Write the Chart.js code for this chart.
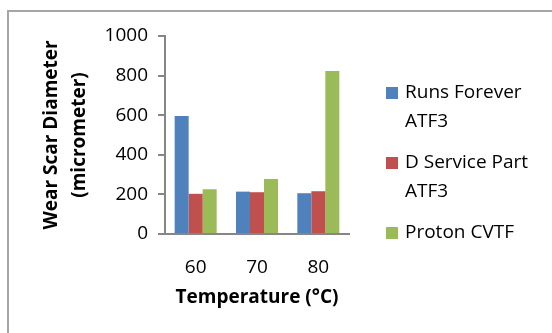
<!DOCTYPE html>
<html>

<head>
    <title>Wear Scar Diameter</title>
    <script src="https://cdn.jsdelivr.net/npm/chart.js@4"></script>
    <style>
        body { margin: 0; background: #fff; }
        #frame { position: absolute; left: 7px; top: 10px; width: 600px; height: 400px; border: 2px solid #a6a6a6; }
        #ctx { position: absolute; left: 0; top: 0; }
    </style>
</head>

<body>
    <div id="frame"></div>
    <canvas id="ctx" width="552" height="333"></canvas>

    <script>
        const categories = ['60', '70', '80'];
        const runsForever = [596, 214, 206];
        const dServicePart = [203, 211, 216];
        const protonCvtf = [226, 278, 823];
        const seriesNames = [['Runs Forever', 'ATF3'], ['D Service Part', 'ATF3'], ['Proton CVTF']];
        const yTicks = [0, 200, 400, 600, 800, 1000];

        const fontFamily = '"Open Sans", sans-serif';

        // legend drawn to the right of the plot, one entry per dataset
        const sideLegend = {
            id: 'sideLegend',
            afterDraw(chart) {
                const c = chart.ctx;
                const area = chart.chartArea;
                const x = area.right + 37;
                let y = area.top + 57;
                c.save();
                c.font = '19px ' + fontFamily;
                c.textBaseline = 'middle';
                chart.data.datasets.forEach((ds, i) => {
                    const lines = seriesNames[i];
                    c.fillStyle = ds.backgroundColor;
                    c.fillRect(x, y - 6, 12, 12);
                    c.fillStyle = '#000';
                    lines.forEach((t, j) => {
                        c.fillText(t, x + 19, y + j * 29);
                    });
                    y += lines.length * 29 + 12;
                });
                c.restore();
            }
        };

        const ctx = document.getElementById('ctx');

        var chart = new Chart(ctx, {
            type: 'bar',
            data: {
                labels: categories,
                datasets: [{
                    label: seriesNames[0].join(' '),
                    data: runsForever,
                    backgroundColor: '#4f81bd'
                },
                {
                    label: seriesNames[1].join(' '),
                    data: dServicePart,
                    backgroundColor: '#c0504d'
                },
                {
                    label: seriesNames[2].join(' '),
                    data: protonCvtf,
                    backgroundColor: '#9bbb59'
                }]
            },
            options: {
                responsive: false,
                animation: false,
                categoryPercentage: 0.685,
                barPercentage: 1,
                layout: {
                    padding: { left: 30, right: 203, top: 36, bottom: 0 }
                },
                plugins: {
                    legend: { display: false },
                    tooltip: { enabled: false }
                },
                scales: {
                    x: {
                        grid: { display: false },
                        border: { display: true, color: '#868686', width: 2 },
                        ticks: {
                            color: '#000',
                            padding: 14,
                            font: { family: fontFamily, size: 19 }
                        },
                        title: {
                            display: true,
                            text: 'Temperature (°C)',
                            color: '#000',
                            padding: { top: 0, bottom: 24 },
                            font: { family: fontFamily, size: 19, weight: 'bold' }
                        },
                        afterFit(scale) {
                            scale.height = 99;
                        }
                    },
                    y: {
                        min: 0,
                        max: 1000,
                        afterBuildTicks(scale) {
                            scale.ticks = yTicks.map(v => ({ value: v }));
                        },
                        grid: {
                            drawOnChartArea: false,
                            drawTicks: true,
                            tickLength: 7,
                            color: '#868686',
                            lineWidth: 2
                        },
                        border: { display: true, color: '#868686', width: 2 },
                        ticks: {
                            color: '#000',
                            padding: 10,
                            font: { family: fontFamily, size: 19 },
                            callback: v => String(v)
                        },
                        title: {
                            display: true,
                            text: ['Wear Scar Diameter', '(micrometer)'],
                            color: '#000',
                            padding: { top: 8, bottom: 0 },
                            font: { family: fontFamily, size: 19, weight: 'bold', lineHeight: '28px' }
                        },
                        afterFit(scale) {
                            scale.width = 135;
                        }
                    }
                }
            },
            plugins: [sideLegend]
        });
    </script>
</body>

</html>
